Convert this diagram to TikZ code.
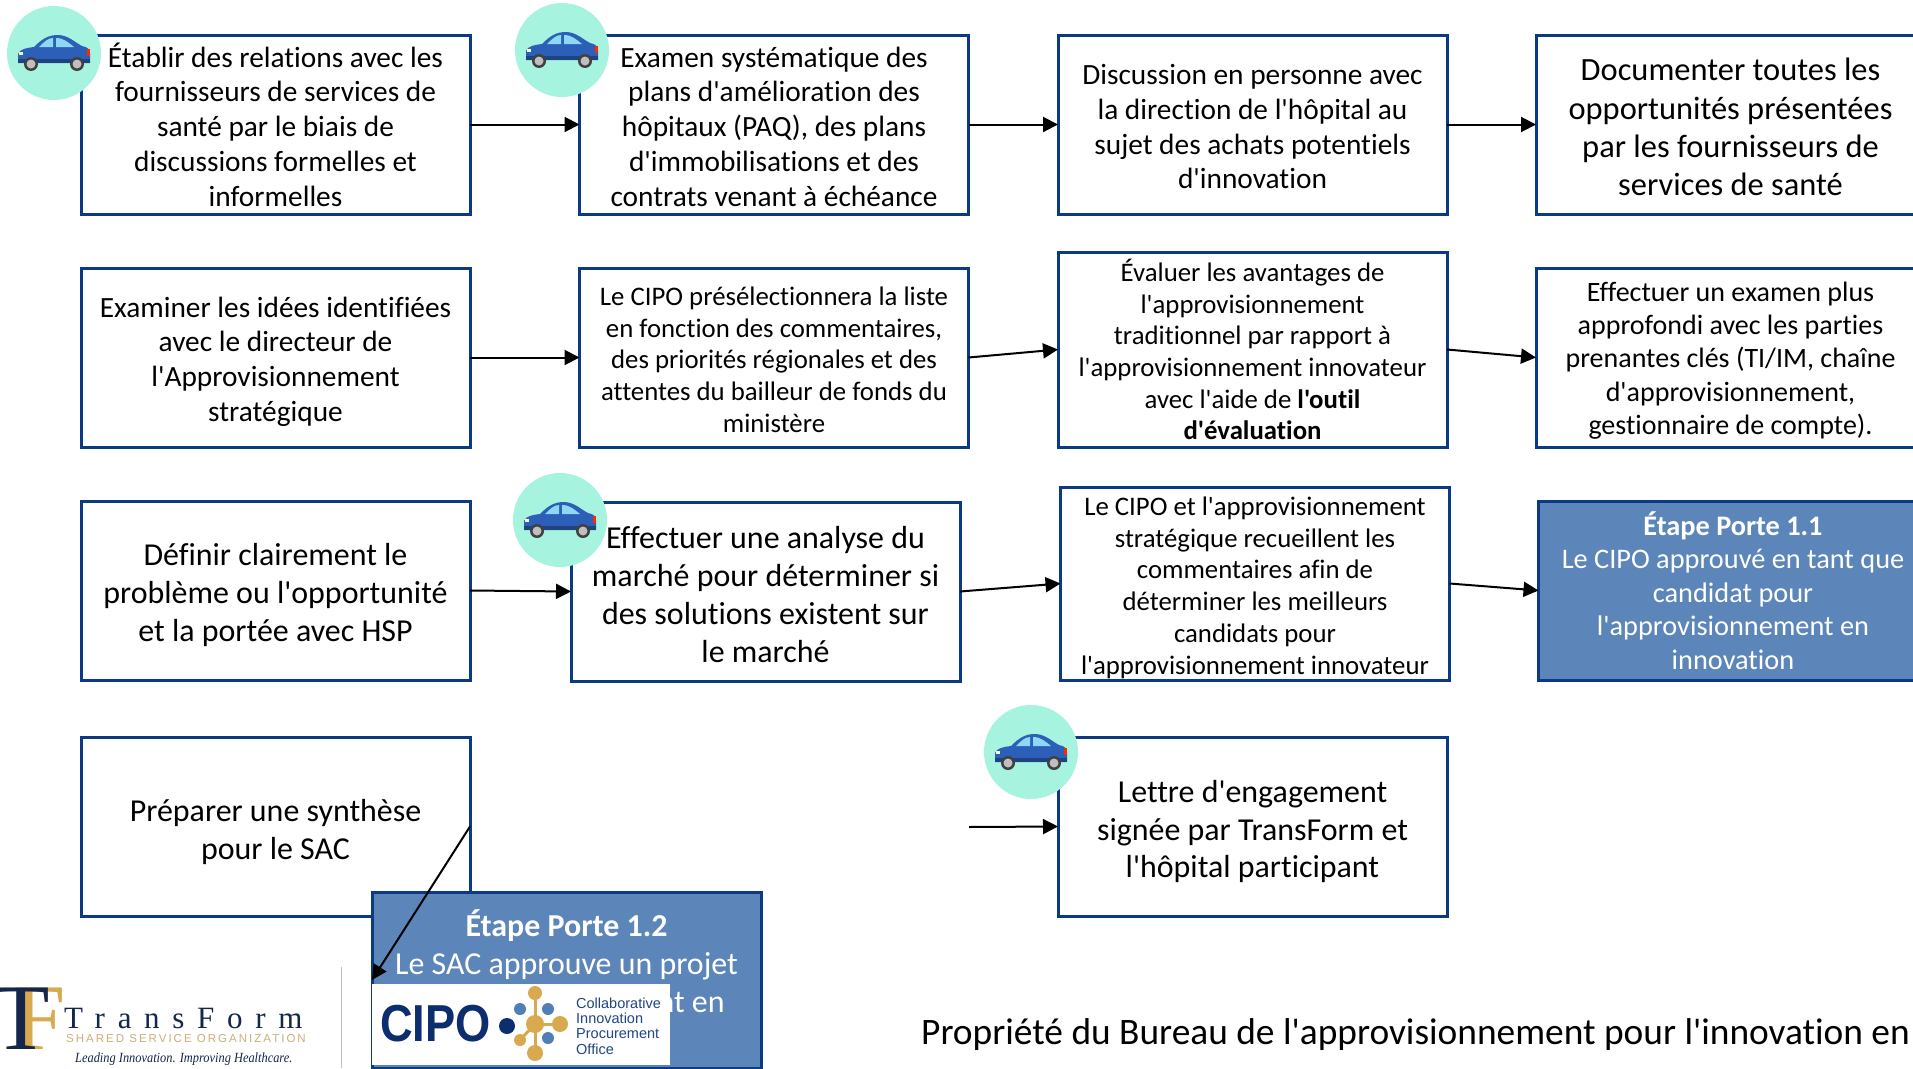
\documentclass[tikz,border=0pt]{standalone}
\usepackage{fontspec}
\usetikzlibrary{arrows.meta}
\newfontfamily\boxfont[Ligatures=CommonOff]{Carlito}
\newfontfamily\serifword[LetterSpace=41]{Liberation Serif}
\newfontfamily\sloganfont{Liberation Serif}
\newfontfamily\orgfont[LetterSpace=17.5]{Liberation Sans}
\newfontfamily\cipofont{Liberation Sans}
\definecolor{boxblue}{HTML}{0B3A84}
\definecolor{gateblue}{HTML}{5C86B9}
\definecolor{carmint}{HTML}{A6F4DF}
\definecolor{carbody}{HTML}{2C5FB8}
\definecolor{carglass}{HTML}{8FD8F5}
\definecolor{logonavy}{HTML}{14264A}
\definecolor{logogold}{HTML}{D9A94F}
\definecolor{logotan}{HTML}{C9AE78}
\definecolor{ciponavy}{HTML}{0C2D6E}
\definecolor{cipoblue}{HTML}{4F7FB5}
\newcommand{\sz}[1]{\pgfmathsetmacro\szfont{#1*1.03}\pgfmathsetmacro\szlead{#1*1.22}\fontsize{\szfont}{\szlead}\selectfont\boxfont}
\newcommand{\dn}[1]{\rule{0pt}{\dimexpr 0.7em+#1pt+#1pt\relax}}
\tikzset{
    car/.pic={
        \fill[carbody] (-36,10) -- (-36,1) .. controls (-34,-4) and (-28,-5) .. (-20,-6) .. controls (-12,-14) and (-6,-18) .. (4,-18) .. controls (14,-18) and (22,-10) .. (28,-7) .. controls (34,-6) and (36,-3) .. (36,0) -- (36,10) -- cycle;
        \fill[carglass] (-15,-6) .. controls (-10,-11) and (-6,-15) .. (-1,-15) -- (-1,-6) -- cycle;
        \fill[carglass] (2,-15) .. controls (10,-15) and (15,-10) .. (20,-6) -- (2,-6) -- cycle;
        \fill[red!70!orange] (33,-4) rectangle (36,3);
        \fill[white!80!yellow] (-35,-1) rectangle (-31,2);
        \fill[carbody!70!black] (-36,6) rectangle (36,10);
        \foreach \w in {-23,23} {
            \fill[black!75] (\w,11) circle (7);
            \fill[black!25] (\w,11) circle (4.5);
        }
    }
}
\begin{document}
\begin{tikzpicture}[x=1pt, y=-1pt,
    stepbox/.style={draw=boxblue, line width=3, fill=white, align=center, inner sep=0, outer sep=0, minimum width=389, minimum height=179, text=black},
    gate/.style={stepbox, fill=gateblue, text=white},
    carspot/.style={circle, fill=carmint, minimum size=94, inner sep=0},
    flow/.style={line width=2, -{Triangle[length=15,width=15]}}]
    \useasboundingbox (0,0) rectangle (1913,1068);
    \clip (0,0) rectangle (1913,1068);

    % row 1
    \node[stepbox, font=\sz{28.5}] (relations) at (275.5,124.5) {Établir des relations avec les\\fournisseurs de services de\\santé par le biais de\\discussions formelles et\\informelles};
    \node[stepbox, font=\sz{28.5}] (examen) at (774,124.5) {\dn{2}Examen systématique des\\plans d'amélioration des\\hôpitaux (PAQ), des plans\\d'immobilisations et des\\contrats venant à échéance};
    \node[stepbox, font=\sz{28.5}] (discussion) at (1252.5,124.5) {\dn{2}Discussion en personne avec\\la direction de l'hôpital au\\sujet des achats potentiels\\d'innovation};
    \node[stepbox, font=\sz{31.5}] (documenter) at (1730.5,124.5) {\dn{2.5}Documenter toutes les\\opportunités présentées\\par les fournisseurs de\\services de santé};

    % row 2
    \node[stepbox, font=\sz{28.5}] (idees) at (275.5,357.5) {\dn{4}Examiner les idées identifiées\\avec le directeur de\\l'Approvisionnement\\stratégique};
    \node[stepbox, font=\sz{26}] (liste) at (774,357.5) {\dn{2}Le CIPO présélectionnera la liste\\en fonction des commentaires,\\des priorités régionales et des\\attentes du bailleur de fonds du\\ministère};
    \node[stepbox, font=\sz{26}, minimum height=195] (avantages) at (1252.5,349.5) {Évaluer les avantages de\\l'approvisionnement\\traditionnel par rapport à\\l'approvisionnement innovateur\\avec l'aide de \textbf{l'outil}\\\textbf{d'évaluation}};
    \node[stepbox, font=\sz{27.2}] (parties) at (1730.5,357.5) {\dn{3}Effectuer un examen plus\\approfondi avec les parties\\prenantes clés (TI/IM, chaîne\\d'approvisionnement,\\gestionnaire de compte).};

    % row 3
    \node[stepbox, font=\sz{31}] (probleme) at (275.5,590.5) {\dn{4.5}Définir clairement le\\problème ou l'opportunité\\et la portée avec HSP};
    \node[stepbox, font=\sz{31}] (analyse) at (765.5,591.5) {\dn{3}Effectuer une analyse du\\marché pour déterminer si\\des solutions existent sur\\le marché};
    \node[stepbox, font=\sz{26}, minimum height=193] (candidats) at (1255,583.5) {\dn{4}Le CIPO et l'approvisionnement\\stratégique recueillent les\\commentaires afin de\\déterminer les meilleurs\\candidats pour\\l'approvisionnement innovateur};
    \node[gate, font=\sz{27.5}] (gateone) at (1733,590.5) {\textbf{Étape Porte 1.1}\\Le CIPO approuvé en tant que\\candidat pour\\l'approvisionnement en\\innovation};

    % row 4
    \node[stepbox, font=\sz{31}] (synthese) at (275.5,826.5) {\dn{5}Préparer une synthèse\\pour le SAC};
    \node[stepbox, font=\sz{31}] (lettre) at (1252.5,826.5) {\dn{5}Lettre d'engagement\\signée par TransForm et\\l'hôpital participant};
    \node[gate, font=\sz{31}, minimum height=176] (gatetwo) at (566.5,980) {\textbf{Étape Porte 1.2}\\Le SAC approuve un projet\\\phantom{d'approvisionneme}nt en\\\mbox{}};
    \coordinate (lettrein) at (969,827);

    \foreach \a/\b in {relations/examen,examen/discussion,discussion/documenter,idees/liste,liste/avantages,avantages/parties,probleme/analyse,analyse/candidats,candidats/gateone,synthese/gatetwo} {
        \draw[flow] (\a.east) -- (\b.west);
    }
    \draw[flow] (lettrein) -- (lettre.west);

    % cars
    \foreach \n/\x/\y in {one/54/53,two/562/50,three/560/520,four/1031/752} {
        \node[carspot] (spot\n) at (\x,\y) {};
        \pic at (spot\n) {car};
    }

    % transform logo
    \node[inner sep=0, text=logogold, font=\fontsize{94}{94}\selectfont\sloganfont] (logof) at (40,1019) {F};
    \node[inner sep=0, text=logonavy, font=\fontsize{94}{94}\selectfont\sloganfont] (logot) at (21,1019) {T};
    \node[inner sep=0, anchor=west, text=logonavy, font=\fontsize{31}{31}\selectfont\serifword] (logoname) at (64,1018) {TransForm};
    \node[inner sep=0, anchor=west, text=logotan, font=\fontsize{11.5}{11.5}\selectfont\orgfont] (logoorg) at (66,1039) {SHARED SERVICE ORGANIZATION};
    \node[inner sep=0, anchor=west, xscale=0.885, text=logonavy, font=\fontsize{14}{14}\selectfont\sloganfont\itshape] (logoslogan) at (75,1059) {Leading Innovation. Improving Healthcare.};
    \draw[black!25, line width=1] (341,967) -- (341,1068);

    % cipo logo
    \node[fill=white, inner sep=0, minimum width=298, minimum height=81] (cipobox) at (521,1024.5) {};
    \node[inner sep=0, anchor=west, xscale=0.87, text=ciponavy, font=\fontsize{52}{52}\selectfont\cipofont\bfseries] (cipoword) at (380,1024) {CIPO};
    \fill[ciponavy] (507,1026) circle (8);
    \foreach \px/\py in {535/993,535/1053,560/1024,520/1040} {\draw[logogold, line width=3] (535,1024) -- (\px,\py);}
    \foreach \px/\py/\r in {535/993/7,535/1053/8,560/1024/8,520/1040/6,535/1024/9} {\fill[logogold] (\px,\py) circle (\r);}
    \foreach \px/\py in {520/1009,548/1009,548/1038} {\fill[cipoblue] (\px,\py) circle (6);}
    \node[inner sep=0, anchor=west, align=left, text=ciponavy!70!cipoblue, font=\fontsize{14.5}{15.4}\selectfont\cipofont] (ciponame) at (576,1026) {Collaborative\\Innovation\\Procurement\\Office};

    % footer
    \node[inner sep=0, anchor=west, font=\sz{36.3}] (footer) at (921,1035) {Propriété du Bureau de l'approvisionnement pour l'innovation en};
\end{tikzpicture}
\end{document}
